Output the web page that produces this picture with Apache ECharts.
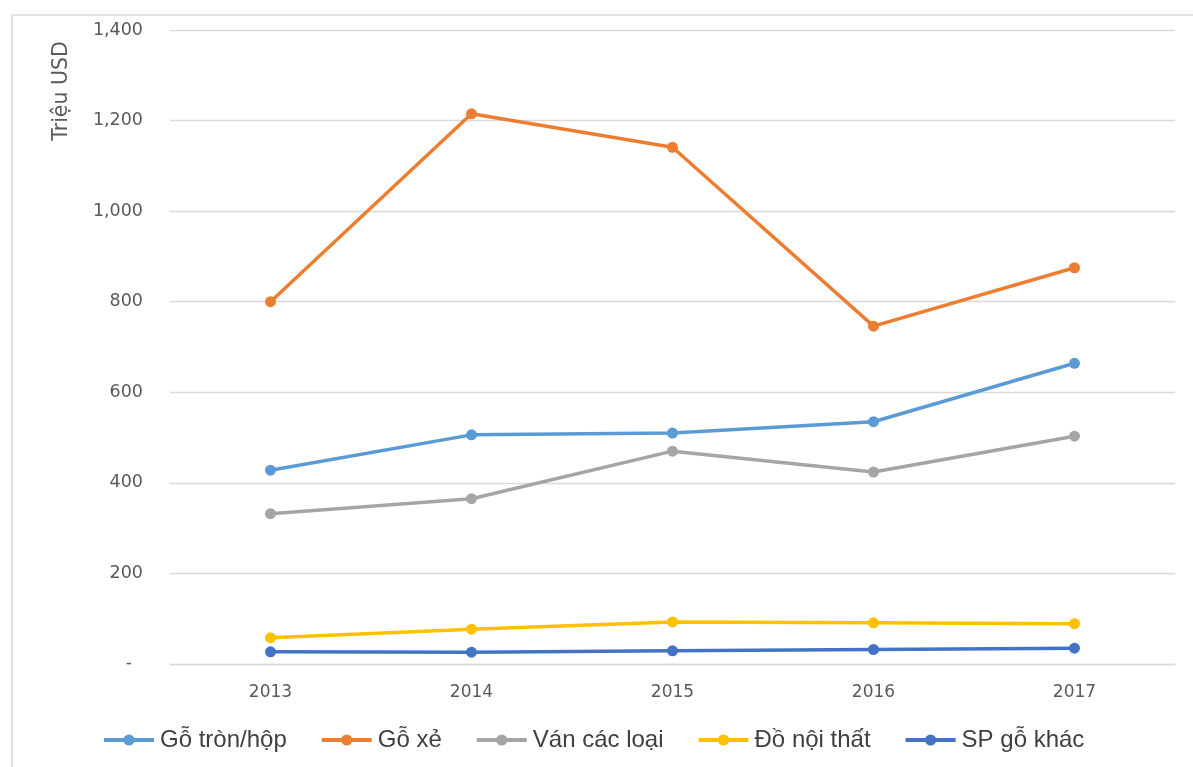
<!DOCTYPE html>
<html>
<head>
<meta charset="utf-8">
<script src="https://cdn.jsdelivr.net/npm/echarts@6/dist/echarts.min.js"></script>
<style>
  html, body { margin: 0; padding: 0; background: #ffffff; }
  #chart { width: 1193px; height: 767px; }
</style>
</head>
<body>
<div id="chart"></div>
<script>
// Years on the category axis
const years = ['2013', '2014', '2015', '2016', '2017'];

// Export value per product group (million USD)
const goTronHop = [428, 506, 510, 535, 664];
const goXe = [800, 1215, 1141, 746, 875];
const vanCacLoai = [332, 365, 470, 424, 503];
const doNoiThat = [58, 77, 93, 91, 89];
const spGoKhac = [27, 26, 29, 32, 35];

const seriesNames = ['Gỗ tròn/hộp', 'Gỗ xẻ', 'Ván các loại', 'Đồ nội thất', 'SP gỗ khác'];
const seriesValues = [goTronHop, goXe, vanCacLoai, doNoiThat, spGoKhac];
const seriesColors = ['#5B9BD5', '#ED7D31', '#A5A5A5', '#FFC000', '#4472C4'];

const yAxisTitle = 'Triệu USD';

const chart = echarts.init(document.getElementById('chart'), null, { renderer: 'canvas' });

const tickFont = 'DejaVu Sans';
const tickColor = '#595959';

chart.setOption({
  animation: false,
  backgroundColor: '#ffffff',
  grid: { left: 170, right: 18, top: 30, bottom: 103 },
  graphic: [
    {
      type: 'rect',
      shape: { x: 12, y: 15, width: 1220, height: 800 },
      style: { fill: 'none', stroke: '#d9d9d9', lineWidth: 1.5 },
      silent: true
    },
    {
      type: 'text',
      x: 62,
      y: 91,
      rotation: Math.PI / 2,
      style: {
        text: yAxisTitle,
        font: '20.5px "DejaVu Sans"',
        fill: tickColor,
        align: 'center',
        verticalAlign: 'middle'
      }
    }
  ],
  legend: {
    data: seriesNames,
    left: 97,
    top: 723,
    itemWidth: 50,
    itemHeight: 14,
    itemGap: 33,
    lineStyle: { width: 4 },
    textStyle: { fontFamily: 'Liberation Sans', fontSize: 24, color: '#404040', padding: [0, 0, 0, 1] }
  },
  xAxis: {
    type: 'category',
    data: years,
    boundaryGap: true,
    axisLine: { show: true, lineStyle: { color: '#d9d9d9', width: 1.3 } },
    axisTick: { show: false },
    axisLabel: { fontFamily: tickFont, fontSize: 17, color: tickColor, margin: 20 }
  },
  yAxis: {
    type: 'value',
    min: 0,
    max: 1400,
    interval: 200,
    axisLine: { show: false },
    axisTick: { show: false },
    splitLine: { lineStyle: { color: '#d9d9d9', width: 1.3 } },
    axisLabel: {
      fontFamily: tickFont,
      fontSize: 17.5,
      color: tickColor,
      margin: 27,
      formatter: function (v) {
        if (v === 0) return '{d|-}';
        return v.toLocaleString('en-US');
      },
      rich: {
        d: { fontFamily: tickFont, fontSize: 17, color: tickColor, padding: [0, 11, 0, 0] }
      }
    }
  },
  series: seriesNames.map(function (name, i) {
    return {
      name: name,
      type: 'line',
      data: seriesValues[i],
      symbol: 'circle',
      symbolSize: 11,
      color: seriesColors[i],
      lineStyle: { width: 3.5, color: seriesColors[i] },
      itemStyle: { color: seriesColors[i] },
      z: 2 + i
    };
  })
});
</script>
</body>
</html>
